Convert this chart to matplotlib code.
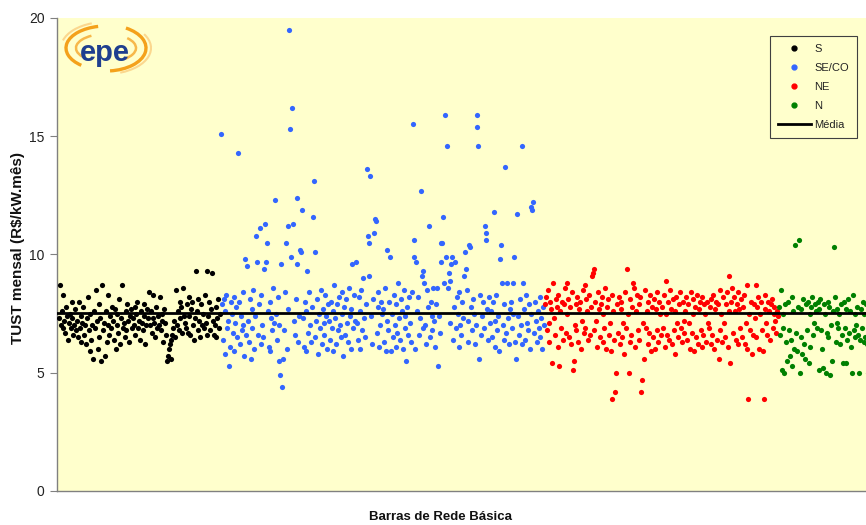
import matplotlib
matplotlib.use("Agg")
import matplotlib.pyplot as plt
from matplotlib.lines import Line2D
from matplotlib.patches import Arc
import numpy as np

plt.rcParams['font.family'] = ['Liberation Sans', 'DejaVu Sans']

# ---------------- data (TUST mensal, R$/kW.mês) ----------------
tust_s = [
    7.3,8.7,7.0,7.6,6.9,8.3,7.2,6.7,7.8,7.4,6.4,7.1,7.5,6.9,8.0,7.3,6.6,7.0,7.7,6.8,
    7.2,6.5,8.0,6.9,7.4,6.3,7.1,7.8,6.6,7.0,6.2,7.3,8.2,6.8,5.9,7.5,6.4,7.0,5.6,7.6,
    6.9,8.5,7.2,6.0,7.9,6.5,7.3,5.5,8.7,6.8,7.1,5.7,7.6,6.3,8.3,7.0,6.6,7.4,6.9,7.8,
    7.2,6.4,7.7,6.0,7.0,7.5,6.7,8.1,6.2,7.3,8.7,6.9,7.1,6.5,7.6,6.8,7.9,7.2,6.3,7.4,
    7.7,6.9,7.3,7.0,7.8,6.6,7.5,8.0,6.9,7.2,6.4,7.6,7.1,6.8,7.9,7.4,6.2,7.0,7.7,7.3,
    8.4,7.0,7.6,6.7,7.3,8.3,7.1,6.5,7.8,6.9,7.4,7.0,8.2,6.8,7.2,7.5,6.3,7.7,7.1,6.6,
    5.5,5.7,6.0,6.2,5.6,6.4,6.6,6.9,7.2,6.5,8.5,7.0,7.6,6.8,7.3,8.0,7.8,6.7,8.6,7.4,
    7.1,6.9,7.9,6.7,8.2,7.4,6.6,7.7,8.0,7.0,6.4,7.3,9.3,7.6,6.8,8.1,7.2,6.5,7.9,7.0,
    7.5,6.9,8.3,7.1,6.6,9.3,7.4,8.0,6.8,7.7,9.2,7.2,6.6,7.0,7.8,6.5,7.3,8.1,6.9,7.5,
]

tust_seco = [
    15.1,7.9,6.4,8.1,5.8,7.6,8.3,6.9,7.2,5.3,6.1,8.0,7.5,6.7,8.2,5.9,7.1,7.8,6.5,14.3,8.0,6.2,7.4,6.8,8.4,7.0,5.7,9.8,6.6,9.5,
    7.2,6.3,8.1,5.6,7.7,6.9,8.5,6.0,7.4,10.8,9.7,6.6,7.9,11.1,6.2,8.3,7.0,6.5,9.4,11.3,9.7,10.5,7.6,6.1,8.0,5.9,7.3,6.8,8.6,7.1,
    12.3,7.5,6.4,8.2,5.5,7.0,4.9,9.6,4.4,5.6,6.8,8.4,10.5,6.0,7.7,11.2,19.5,15.3,9.9,16.2,11.3,7.2,6.6,8.1,9.6,12.4,6.3,7.4,10.2,10.1,
    11.9,7.3,6.1,8.0,5.9,7.6,9.3,6.7,8.4,7.0,6.3,7.8,11.6,13.1,10.1,6.5,7.2,8.1,5.8,7.5,6.9,8.5,6.2,7.7,7.1,6.6,8.3,7.4,6.0,7.9,
    7.2,6.4,8.0,6.9,7.6,5.9,8.7,7.3,6.2,7.9,6.8,8.2,7.0,6.5,8.4,7.5,5.7,7.8,6.6,8.1,7.1,6.3,8.6,7.4,6.0,7.7,9.6,6.9,8.3,7.2,
    9.7,7.1,6.4,8.2,7.6,6.0,8.5,6.8,9.0,7.3,6.5,7.9,13.6,10.8,9.1,10.5,13.3,7.4,6.2,8.1,10.9,11.5,11.4,6.7,7.8,8.4,6.1,7.0,8.0,7.5,
    7.7,6.3,8.6,5.9,7.2,10.2,6.8,8.0,9.9,5.9,7.5,6.5,8.3,7.0,6.1,7.9,6.7,8.8,7.3,6.4,8.1,7.6,6.0,8.5,6.9,7.4,5.5,7.8,6.6,8.2,
    7.1,6.3,8.4,15.5,10.6,9.9,6.0,9.7,7.6,8.2,6.6,7.3,12.7,9.1,6.9,9.3,8.8,7.0,6.2,8.5,7.8,11.2,6.5,8.0,7.4,6.8,8.6,7.2,6.1,7.9,
    8.6,5.3,7.4,6.7,10.5,9.7,10.5,11.6,8.8,15.9,9.9,14.6,8.6,9.2,8.9,7.1,9.6,9.9,6.4,7.8,9.7,6.9,8.2,7.5,6.1,8.4,7.0,6.6,8.0,7.3,
    9.1,10.1,9.4,8.5,7.2,6.3,10.4,10.3,7.8,6.8,8.1,7.5,6.2,7.0,15.4,15.9,14.6,5.6,8.3,6.6,7.4,8.0,6.9,11.2,10.9,10.6,7.7,6.4,8.2,7.1,
    7.6,6.5,8.0,11.8,7.2,6.1,8.3,6.8,7.4,5.9,9.8,10.4,8.8,7.0,6.4,7.9,13.7,6.7,8.8,7.3,6.2,7.7,8.0,6.9,8.8,7.5,9.9,6.3,5.6,11.7,
    7.4,6.6,8.1,7.0,6.2,14.6,8.8,7.7,6.4,8.3,7.1,6.8,7.9,6.0,12.0,7.5,11.9,12.2,6.7,8.0,7.2,6.3,7.6,6.9,8.2,6.5,7.3,6.0,7.8,7.0,
]

tust_ne = [
    7.9,8.2,6.8,8.5,7.1,6.3,8.0,7.7,5.4,8.8,7.3,6.6,8.1,7.8,6.1,8.3,5.3,7.6,6.9,8.0,6.4,7.9,8.6,6.7,8.8,7.5,
    8.1,6.5,7.8,6.2,8.4,5.1,5.5,7.0,7.9,6.8,8.2,6.3,7.7,8.0,6.0,7.2,8.5,6.7,8.7,6.9,8.1,7.6,6.4,8.3,6.6,7.8,
    9.1,9.2,9.4,6.8,8.0,7.2,6.1,8.4,7.7,6.5,7.9,8.2,6.3,7.5,6.9,8.6,6.0,7.8,8.1,6.6,7.1,5.9,8.3,3.9,7.6,6.4,
    4.2,5.0,7.9,6.7,8.2,6.2,7.7,8.0,6.5,7.1,5.8,8.4,6.9,9.4,7.5,5.0,6.3,8.1,6.6,7.8,8.8,8.6,6.1,7.6,8.3,6.8,
    7.9,6.4,8.2,4.2,4.7,7.1,5.6,8.5,6.9,7.6,6.2,8.0,6.7,8.3,5.9,7.8,6.5,8.1,6.0,7.7,8.4,6.8,6.3,8.0,7.5,6.6,
    7.8,6.9,8.3,6.1,8.9,7.5,6.6,8.0,6.4,8.5,7.7,6.2,8.1,6.8,7.6,5.8,8.2,7.1,6.5,7.9,8.4,6.9,6.3,8.0,7.2,6.7,
    7.6,8.2,6.4,7.9,7.1,6.0,8.4,6.7,8.1,7.5,5.9,7.8,6.5,8.3,6.2,7.7,8.0,6.8,6.1,8.2,6.6,7.9,7.5,6.3,8.0,7.1,
    6.9,7.8,6.2,8.1,6.6,8.3,6.0,7.7,8.0,6.4,7.9,5.6,8.5,6.8,7.5,6.3,8.2,7.1,6.5,7.9,8.4,6.1,7.6,9.1,5.4,8.0,
    8.6,6.7,8.2,7.6,6.4,7.9,8.4,6.2,7.7,6.9,8.1,6.5,7.8,8.3,6.2,7.1,6.0,8.7,3.9,7.5,6.8,8.0,5.8,6.6,7.9,7.3,
    8.7,6.5,7.8,8.2,6.0,7.5,8.0,6.8,5.9,3.9,7.7,8.3,7.1,6.6,8.0,7.6,6.4,7.9,8.1,6.9,7.5,7.8,7.2,6.7,7.6,7.4,
]

tust_n = [
    7.8,6.6,8.5,5.1,7.5,6.9,5.0,7.9,6.3,5.5,8.0,6.8,5.7,6.4,8.2,5.3,7.6,6.0,10.4,6.7,5.9,7.8,
    10.6,5.0,7.7,6.5,5.8,8.1,6.2,5.6,7.9,6.8,8.0,5.4,7.5,6.1,7.8,8.2,6.6,7.1,7.9,7.6,6.9,8.0,
    5.1,7.7,8.1,6.8,6.0,5.2,7.9,7.5,5.0,6.7,8.0,6.5,7.8,4.9,7.0,5.5,7.6,10.3,8.2,6.3,7.1,7.7,
    6.9,7.5,6.2,7.9,6.6,5.4,8.0,6.9,5.4,7.7,6.4,8.1,6.7,7.6,6.1,5.0,8.3,6.8,7.5,6.5,7.0,7.8,
    6.6,5.0,6.4,7.7,6.9,8.0,6.3,7.5,6.5,7.9,6.2,5.0,6.8,8.4,6.6,8.3,6.4,7.6,5.1,6.9,7.3,8.0,
]

mean_tust = 7.53
series_labels = ['S', 'SE/CO', 'NE', 'N']
series_colors = ['#000000', '#3366FF', '#FF0000', '#008000']
y_ticks = [0, 5, 10, 15, 20]

# ---------------- figure ----------------
W, H = 866, 525
fig = plt.figure(figsize=(W / 100, H / 100), dpi=100)
fig.patch.set_facecolor('white')

ax = fig.add_axes([57 / W, 34 / H, (W - 57) / W, 473 / H])
ax.set_facecolor('#FFFFCC')

all_series = [tust_s, tust_seco, tust_ne, tust_n]
start = 0
for vals, lab, col in zip(all_series, series_labels, series_colors):
    x = np.arange(start, start + len(vals))
    ax.scatter(x, vals, s=14, color=col, linewidths=0, zorder=3)
    start += len(vals)

ax.axhline(mean_tust, color='black', lw=2.0, zorder=4)

ax.set_ylim(0, 20)
ax.set_xlim(-2.2, 896.7)
ax.set_yticks(y_ticks)
ax.set_yticklabels([str(t) for t in y_ticks], fontsize=10, color='#222222')
ax.set_xticks([])
ax.tick_params(axis='y', direction='out', length=5, width=0.8, color='#808080', pad=4)
for side in ['top', 'right']:
    ax.spines[side].set_visible(False)
for side in ['left', 'bottom']:
    ax.spines[side].set_color('#808080')
    ax.spines[side].set_linewidth(1.0)

fig.text(18 / W, 1 - 248 / H, 'TUST mensal (R$/kW.mês)', rotation=90,
         ha='center', va='center', fontsize=11, fontweight='bold', color='#111111')
fig.text(440 / W, 1 - 517 / H, 'Barras de Rede Básica', ha='center', va='center',
         fontsize=9.5, fontweight='bold', color='#111111')

# legend
handles = [Line2D([], [], marker='o', ls='none', color=c, markersize=3.5) for c in series_colors]
handles.append(Line2D([], [], color='black', lw=2.0))
leg = fig.legend(handles, series_labels + ['Média'], loc='upper left',
                 bbox_to_anchor=(770 / W, 1 - 36 / H), bbox_transform=fig.transFigure,
                 fontsize=8, frameon=True, fancybox=False, framealpha=1,
                 facecolor='#FFFFCC', edgecolor='#404040', labelspacing=0.82,
                 handlelength=3.0, handletextpad=0.3, borderpad=0.7, borderaxespad=0)
leg.get_frame().set_linewidth(0.8)
for t in leg.get_texts():
    t.set_color('#222222')

# logo
lax = fig.add_axes([60 / W, 1 - 76 / H, 92 / W, 52 / H])
lax.set_xlim(0, 92)
lax.set_ylim(0, 52)
lax.axis('off')
cx, cy = 46, 28
arcs = [
    (80, 44, 110, 215, '#F4A11B', 2.4),
    (80, 46, -80, 45, '#F4A11B', 2.4),
    (60, 28, 140, 200, '#F7B84A', 1.8),
    (60, 28, -30, 25, '#F7B84A', 1.8),
    (90, 52, 120, 170, '#FBD78E', 1.5),
    (90, 52, -60, 20, '#FBD78E', 1.5),
]
for w_, h_, t1, t2, c_, lw_ in arcs:
    lax.add_patch(Arc((cx, cy), w_, h_, theta1=t1, theta2=t2, color=c_, lw=lw_, clip_on=False))
lax.text(45, 23, 'epe', ha='center', va='center', fontsize=21, fontweight='bold',
         color='#1F3F8F')

fig.savefig('out.png', dpi=100, facecolor='white')
